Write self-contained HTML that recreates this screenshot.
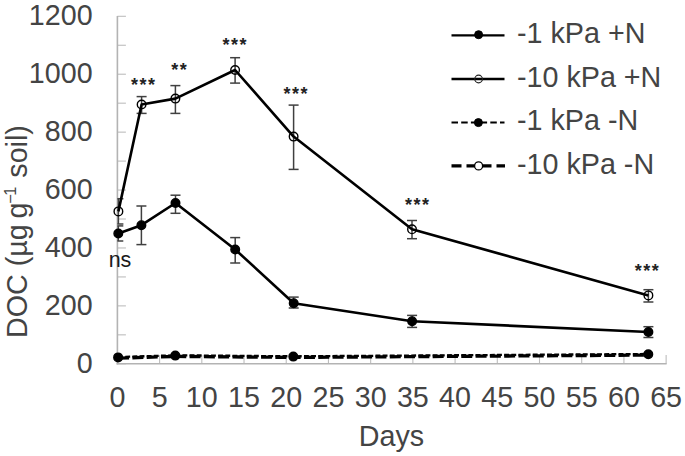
<!DOCTYPE html>
<html><head><meta charset="utf-8"><style>
html,body{margin:0;padding:0;background:#fff;}
body{width:685px;height:456px;overflow:hidden;font-family:"Liberation Sans",sans-serif;}
svg{display:block;}
</style></head><body>
<svg width="685" height="456" viewBox="0 0 685 456">
<rect width="685" height="456" fill="#fff"/>
<g stroke="#bdbdbd" fill="none" stroke-width="1.1">
<line x1="117.4" y1="363.80" x2="125.90" y2="363.80"/>
<line x1="117.4" y1="334.84" x2="125.90" y2="334.84"/>
<line x1="117.4" y1="305.88" x2="125.90" y2="305.88"/>
<line x1="117.4" y1="276.93" x2="125.90" y2="276.93"/>
<line x1="117.4" y1="247.97" x2="125.90" y2="247.97"/>
<line x1="117.4" y1="219.01" x2="125.90" y2="219.01"/>
<line x1="117.4" y1="190.05" x2="125.90" y2="190.05"/>
<line x1="117.4" y1="161.09" x2="125.90" y2="161.09"/>
<line x1="117.4" y1="132.14" x2="125.90" y2="132.14"/>
<line x1="117.4" y1="103.18" x2="125.90" y2="103.18"/>
<line x1="117.4" y1="74.22" x2="125.90" y2="74.22"/>
<line x1="117.4" y1="45.26" x2="125.90" y2="45.26"/>
<line x1="117.4" y1="16.30" x2="125.90" y2="16.30"/>
<line x1="159.61" y1="363.8" x2="159.61" y2="355.10"/>
<line x1="201.82" y1="363.8" x2="201.82" y2="355.10"/>
<line x1="244.03" y1="363.8" x2="244.03" y2="355.10"/>
<line x1="286.24" y1="363.8" x2="286.24" y2="355.10"/>
<line x1="328.45" y1="363.8" x2="328.45" y2="355.10"/>
<line x1="370.66" y1="363.8" x2="370.66" y2="355.10"/>
<line x1="412.87" y1="363.8" x2="412.87" y2="355.10"/>
<line x1="455.08" y1="363.8" x2="455.08" y2="355.10"/>
<line x1="497.29" y1="363.8" x2="497.29" y2="355.10"/>
<line x1="539.50" y1="363.8" x2="539.50" y2="355.10"/>
<line x1="581.71" y1="363.8" x2="581.71" y2="355.10"/>
<line x1="623.92" y1="363.8" x2="623.92" y2="355.10"/>
<line x1="666.13" y1="363.8" x2="666.13" y2="355.10"/>
</g>
<g stroke="#b3b3b3" fill="none" stroke-width="1.6">
<line x1="117.4" y1="16" x2="117.4" y2="364.6"/>
<line x1="116.60000000000001" y1="363.8" x2="666.63" y2="363.8"/>
</g>
<g font-family="Liberation Sans, sans-serif" font-size="28.7" fill="#444444">
<text x="92.6" y="372.80" text-anchor="end">0</text>
<text x="92.6" y="314.88" text-anchor="end">200</text>
<text x="92.6" y="256.97" text-anchor="end">400</text>
<text x="92.6" y="199.05" text-anchor="end">600</text>
<text x="92.6" y="141.14" text-anchor="end">800</text>
<text x="92.6" y="83.22" text-anchor="end">1000</text>
<text x="92.6" y="25.30" text-anchor="end">1200</text>
<text x="117.40" y="407" text-anchor="middle">0</text>
<text x="159.61" y="407" text-anchor="middle">5</text>
<text x="201.82" y="407" text-anchor="middle">10</text>
<text x="244.03" y="407" text-anchor="middle">15</text>
<text x="286.24" y="407" text-anchor="middle">20</text>
<text x="328.45" y="407" text-anchor="middle">25</text>
<text x="370.66" y="407" text-anchor="middle">30</text>
<text x="412.87" y="407" text-anchor="middle">35</text>
<text x="455.08" y="407" text-anchor="middle">40</text>
<text x="497.29" y="407" text-anchor="middle">45</text>
<text x="539.50" y="407" text-anchor="middle">50</text>
<text x="581.71" y="407" text-anchor="middle">55</text>
<text x="623.92" y="407" text-anchor="middle">60</text>
<text x="666.13" y="407" text-anchor="middle">65</text>
<text x="391.5" y="445.8" text-anchor="middle">Days</text>
<text transform="translate(26.5,338) rotate(-90)" x="0" y="0">DOC (µg<tspan dx="-2.3"> g</tspan><tspan font-size="16.5" dy="-11" dx="-1.2">&#8722;<tspan dx="-1.5">1</tspan></tspan><tspan dy="11" dx="0.8"> soil)</tspan></text>
</g>
<g stroke="#404040" stroke-width="1.5" fill="none">
<line x1="118.30" y1="225.9" x2="118.30" y2="241.0"/>
<line x1="117.40" y1="225.9" x2="123.30" y2="225.9"/>
<line x1="117.40" y1="241.0" x2="123.30" y2="241.0"/>
<line x1="141.40" y1="206.0" x2="141.40" y2="244.6"/>
<line x1="136.40" y1="206.0" x2="146.40" y2="206.0"/>
<line x1="136.40" y1="244.6" x2="146.40" y2="244.6"/>
<line x1="175.50" y1="195.2" x2="175.50" y2="213.3"/>
<line x1="170.50" y1="195.2" x2="180.50" y2="195.2"/>
<line x1="170.50" y1="213.3" x2="180.50" y2="213.3"/>
<line x1="235.20" y1="237.6" x2="235.20" y2="263.0"/>
<line x1="230.20" y1="237.6" x2="240.20" y2="237.6"/>
<line x1="230.20" y1="263.0" x2="240.20" y2="263.0"/>
<line x1="293.70" y1="297.1" x2="293.70" y2="308.0"/>
<line x1="288.70" y1="297.1" x2="298.70" y2="297.1"/>
<line x1="288.70" y1="308.0" x2="298.70" y2="308.0"/>
<line x1="412.10" y1="315.4" x2="412.10" y2="327.4"/>
<line x1="407.10" y1="315.4" x2="417.10" y2="315.4"/>
<line x1="407.10" y1="327.4" x2="417.10" y2="327.4"/>
<line x1="648.40" y1="326.7" x2="648.40" y2="337.5"/>
<line x1="643.40" y1="326.7" x2="653.40" y2="326.7"/>
<line x1="643.40" y1="337.5" x2="653.40" y2="337.5"/>
<line x1="118.40" y1="198.7" x2="118.40" y2="224.0"/>
<line x1="117.40" y1="198.7" x2="123.40" y2="198.7"/>
<line x1="117.40" y1="224.0" x2="123.40" y2="224.0"/>
<line x1="141.60" y1="96.6" x2="141.60" y2="113.4"/>
<line x1="136.60" y1="96.6" x2="146.60" y2="96.6"/>
<line x1="136.60" y1="113.4" x2="146.60" y2="113.4"/>
<line x1="175.40" y1="85.6" x2="175.40" y2="113.4"/>
<line x1="170.40" y1="85.6" x2="180.40" y2="85.6"/>
<line x1="170.40" y1="113.4" x2="180.40" y2="113.4"/>
<line x1="235.10" y1="57.7" x2="235.10" y2="83.1"/>
<line x1="230.10" y1="57.7" x2="240.10" y2="57.7"/>
<line x1="230.10" y1="83.1" x2="240.10" y2="83.1"/>
<line x1="293.60" y1="105.1" x2="293.60" y2="169.4"/>
<line x1="288.60" y1="105.1" x2="298.60" y2="105.1"/>
<line x1="288.60" y1="169.4" x2="298.60" y2="169.4"/>
<line x1="412.00" y1="220.5" x2="412.00" y2="238.7"/>
<line x1="407.00" y1="220.5" x2="417.00" y2="220.5"/>
<line x1="407.00" y1="238.7" x2="417.00" y2="238.7"/>
<line x1="648.40" y1="289.7" x2="648.40" y2="302.0"/>
<line x1="643.40" y1="289.7" x2="653.40" y2="289.7"/>
<line x1="643.40" y1="302.0" x2="653.40" y2="302.0"/>
</g>
<g fill="none" stroke="#000" stroke-linejoin="round">
<polyline points="118.10,358.2 175.30,356.40000000000003 293.30,357.40000000000003 648.30,355.1" stroke-width="3.3" stroke-dasharray="11 3.3"/>
<polyline points="118.10,357.09999999999997 175.30,355.3 293.30,356.3 648.30,354.0" stroke-width="2.3" stroke-dasharray="4.9 2.25"/>
<polyline points="118.30,233.5 141.40,225.2 175.50,203.0 235.20,249.5 293.70,303.2 412.10,321.2 648.40,332.0" stroke-width="2.6"/>
<polyline points="118.40,211.4 141.60,104.5 175.40,98.6 235.10,70.0 293.60,136.6 412.00,229.3 648.40,295.4" stroke-width="2.6"/>
</g>
<g stroke="#000" stroke-width="1.4">
<circle cx="118.30" cy="233.5" r="4.3" fill="#000"/>
<circle cx="141.40" cy="225.2" r="4.3" fill="#000"/>
<circle cx="175.50" cy="203.0" r="4.3" fill="#000"/>
<circle cx="235.20" cy="249.5" r="4.3" fill="#000"/>
<circle cx="293.70" cy="303.2" r="4.3" fill="#000"/>
<circle cx="412.10" cy="321.2" r="4.3" fill="#000"/>
<circle cx="648.40" cy="332.0" r="4.3" fill="#000"/>
<circle cx="118.40" cy="211.4" r="4.3" fill="none"/>
<circle cx="141.60" cy="104.5" r="4.3" fill="none"/>
<circle cx="175.40" cy="98.6" r="4.3" fill="none"/>
<circle cx="235.10" cy="70.0" r="4.3" fill="none"/>
<circle cx="293.60" cy="136.6" r="4.3" fill="none"/>
<circle cx="412.00" cy="229.3" r="4.3" fill="none"/>
<circle cx="648.40" cy="295.4" r="4.3" fill="none"/>
<circle cx="118.10" cy="357.4" r="4.3" fill="#000"/>
<circle cx="175.30" cy="355.6" r="4.3" fill="#000"/>
<circle cx="293.30" cy="356.6" r="4.3" fill="#000"/>
<circle cx="648.30" cy="354.3" r="4.3" fill="#000"/>
</g>
<g font-family="Liberation Sans, sans-serif" font-size="18" font-weight="bold" fill="#222" text-anchor="middle" letter-spacing="1.5">
<text x="143.85" y="90.6">***</text>
<text x="179.85" y="75.7">**</text>
<text x="235.35" y="51.3">***</text>
<text x="296.15" y="99.6">***</text>
<text x="417.75" y="211.4">***</text>
<text x="647.45" y="276.9">***</text>
</g>
<text x="120" y="267" font-family="Liberation Sans, sans-serif" font-size="21.5" fill="#1a1a1a" text-anchor="middle">ns</text>
<g>
<line x1="451.5" y1="35.3" x2="504.5" y2="35.3" stroke="#000" stroke-width="2.3"/>
<circle cx="478.6" cy="34.699999999999996" r="4" fill="#000" stroke="#000" stroke-width="1"/>
<text x="517" y="43.1" font-family="Liberation Sans, sans-serif" font-size="28.7" fill="#444444">-1 kPa +N</text>
<line x1="451.5" y1="79" x2="504.5" y2="79" stroke="#000" stroke-width="2.3"/>
<circle cx="478.6" cy="79" r="3.8" fill="none" stroke="#222" stroke-width="1.2"/>
<text x="517" y="86.8" font-family="Liberation Sans, sans-serif" font-size="28.7" fill="#444444">-10 kPa +N</text>
<line x1="451.5" y1="122.6" x2="504.5" y2="122.6" stroke="#000" stroke-width="2" stroke-dasharray="6.5 3.2"/>
<circle cx="478.4" cy="122.6" r="4" fill="#000" stroke="#000" stroke-width="1"/>
<text x="517" y="130.4" font-family="Liberation Sans, sans-serif" font-size="28.7" fill="#444444">-1 kPa -N</text>
<line x1="451.5" y1="165.9" x2="505" y2="165.9" stroke="#000" stroke-width="3.3" stroke-dasharray="10 5"/>
<circle cx="478.6" cy="165.9" r="4" fill="#fff" stroke="#000" stroke-width="1.3"/>
<text x="517" y="173.7" font-family="Liberation Sans, sans-serif" font-size="28.7" fill="#444444">-10 kPa -N</text>
</g>
</svg>
</body></html>
